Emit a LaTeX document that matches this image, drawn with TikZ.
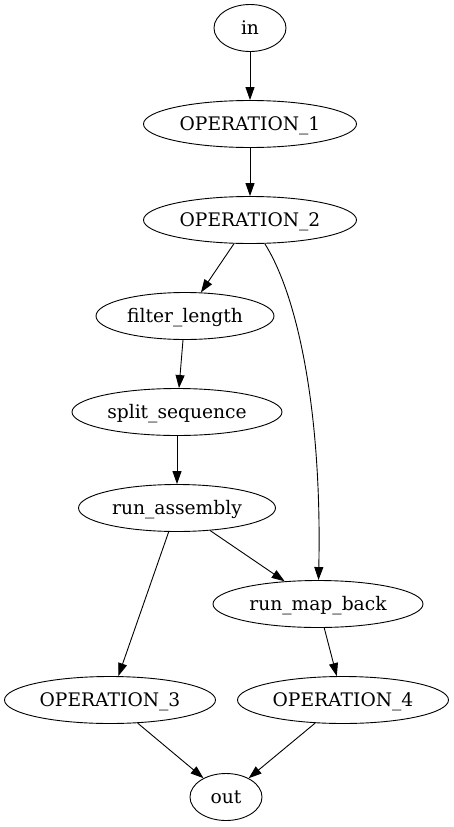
\documentclass[tikz,border=0pt]{standalone}
\usepackage{fontspec}
\setmainfont{DejaVu Serif}
\usetikzlibrary{shapes.geometric,arrows.meta}
\begin{document}
\begin{tikzpicture}[x=1pt,y=-1pt,
  nd/.style={draw,ellipse,inner sep=0pt,minimum height=47pt,text height=15pt,text depth=3pt,line width=0.9pt,font=\fontsize{18.67}{22}\selectfont},
  arr/.style={line width=0.9pt,-{Triangle[length=13pt,width=9pt]}}]
\useasboundingbox (0,0) rectangle (454,827);
\node[nd,minimum width=72pt] (in) at (250,28) {in};
\node[nd,minimum width=213pt] (op1) at (250,124) {OPERATION\_1};
\node[nd,minimum width=213pt] (op2) at (250,220) {OPERATION\_2};
\node[nd,minimum width=178pt] (fl) at (185,316) {filter\_length};
\node[nd,minimum width=210pt] (ss) at (177,412) {split\_sequence};
\node[nd,minimum width=197pt] (ra) at (177,508) {run\_assembly};
\node[nd,minimum width=210pt] (rmb) at (318,604) {run\_map\_back};
\node[nd,minimum width=211pt] (op3) at (110,700) {OPERATION\_3};
\node[nd,minimum width=211pt] (op4) at (343,700) {OPERATION\_4};
\node[nd,minimum width=72pt] (out) at (226,797) {out};
\draw[arr] (in) -- (op1);
\draw[arr] (op1) -- (op2);
\draw[arr] (op2) -- (fl);
\draw[arr] (op2) .. controls (300,300) and (322,420) .. (rmb);
\draw[arr] (fl) -- (ss);
\draw[arr] (ss) -- (ra);
\draw[arr] (ra) -- (rmb);
\draw[arr] (ra) -- (op3);
\draw[arr] (rmb) -- (op4);
\draw[arr] (op3) -- (out);
\draw[arr] (op4) -- (out);
\end{tikzpicture}
\end{document}
